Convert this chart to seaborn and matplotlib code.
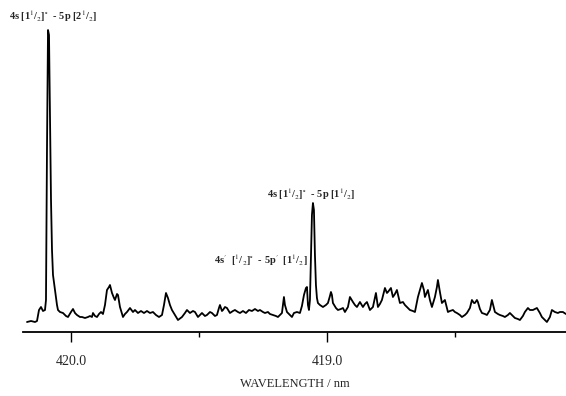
import numpy as np
import pandas as pd
import matplotlib
matplotlib.use("Agg")
import matplotlib.pyplot as plt
import seaborn as sns
from matplotlib.ticker import FixedLocator, FormatStrFormatter

sns.set_theme(style="white")
plt.rcParams['font.family'] = ['Liberation Serif', 'DejaVu Serif']
plt.rcParams['mathtext.fontset'] = 'stix'

wavelength_nm = [
    420.1719, 420.1562, 420.1406, 420.1328, 420.1250, 420.1172, 420.1094, 420.1016, 420.0977, 420.0938,
    420.0898, 420.0859, 420.0820, 420.0781, 420.0742, 420.0703, 420.0625, 420.0547, 420.0508, 420.0430,
    420.0312, 420.0195, 420.0117, 420.0000, 419.9922, 419.9844, 419.9766, 419.9648, 419.9570, 419.9453,
    419.9336, 419.9258, 419.9180, 419.9141, 419.9062, 419.8984, 419.8906, 419.8828, 419.8750, 419.8672,
    419.8594, 419.8516, 419.8477, 419.8398, 419.8320, 419.8281, 419.8203, 419.8164, 419.8086, 419.7969,
    419.7891, 419.7812, 419.7695, 419.7578, 419.7500, 419.7383, 419.7266, 419.7148, 419.7031, 419.6914,
    419.6797, 419.6680, 419.6562, 419.6445, 419.6367, 419.6289, 419.6211, 419.6133, 419.6055, 419.5938,
    419.5820, 419.5664, 419.5547, 419.5469, 419.5352, 419.5234, 419.5156, 419.5039, 419.4883, 419.4766,
    419.4688, 419.4570, 419.4492, 419.4375, 419.4297, 419.4219, 419.4180, 419.4102, 419.4062, 419.3984,
    419.3906, 419.3789, 419.3672, 419.3594, 419.3477, 419.3398, 419.3281, 419.3164, 419.3047, 419.2930,
    419.2812, 419.2695, 419.2617, 419.2500, 419.2422, 419.2305, 419.2227, 419.2109, 419.1992, 419.1914,
    419.1836, 419.1758, 419.1719, 419.1680, 419.1641, 419.1562, 419.1484, 419.1367, 419.1289, 419.1172,
    419.1055, 419.0977, 419.0898, 419.0820, 419.0781, 419.0742, 419.0703, 419.0664, 419.0625, 419.0586,
    419.0547, 419.0508, 419.0469, 419.0430, 419.0391, 419.0352, 419.0273, 419.0156, 419.0039, 418.9961,
    418.9883, 418.9844, 418.9805, 418.9766, 418.9648, 418.9570, 418.9453, 418.9375, 418.9297, 418.9180,
    418.9102, 418.8984, 418.8906, 418.8828, 418.8711, 418.8594, 418.8516, 418.8437, 418.8320, 418.8203,
    418.8086, 418.8008, 418.7930, 418.7852, 418.7734, 418.7656, 418.7617, 418.7500, 418.7422, 418.7344,
    418.7266, 418.7148, 418.7031, 418.6953, 418.6875, 418.6758, 418.6641, 418.6562, 418.6445, 418.6367,
    418.6289, 418.6211, 418.6172, 418.6055, 418.5977, 418.5898, 418.5781, 418.5703, 418.5664, 418.5586,
    418.5508, 418.5391, 418.5312, 418.5273, 418.5195, 418.5078, 418.5000, 418.4922, 418.4805, 418.4727,
    418.4609, 418.4531, 418.4414, 418.4336, 418.4258, 418.4219, 418.4141, 418.4102, 418.4023, 418.3945,
    418.3828, 418.3750, 418.3633, 418.3555, 418.3477, 418.3437, 418.3320, 418.3242, 418.3125, 418.3047,
    418.2930, 418.2852, 418.2734, 418.2656, 418.2539, 418.2461, 418.2344, 418.2266, 418.2148, 418.2070,
    418.1953, 418.1875, 418.1797, 418.1680, 418.1602, 418.1484, 418.1406, 418.1289, 418.1211, 418.1094,
    418.0977, 418.0898, 418.0781, 418.0664,
]

intensity = [
    10, 11, 10, 11, 22, 25, 21, 22, 32, 182,
    302, 297, 212, 132, 82, 57, 42, 27, 22, 20,
    19, 16, 15, 20, 23, 19, 17, 15, 15, 14,
    15, 16, 15, 19, 16, 15, 18, 20, 18, 27,
    42, 45, 47, 39, 34, 32, 38, 37, 25, 15,
    18, 20, 24, 20, 22, 19, 21, 19, 21, 19,
    20, 17, 15, 17, 27, 39, 34, 27, 22, 17,
    12, 15, 19, 22, 19, 21, 20, 15, 19, 16,
    17, 20, 19, 16, 17, 24, 27, 21, 22, 25,
    24, 19, 21, 22, 20, 19, 21, 19, 22, 21,
    23, 21, 22, 20, 19, 20, 18, 17, 16, 15,
    17, 19, 27, 35, 27, 20, 18, 15, 19, 20,
    19, 26, 37, 44, 45, 27, 22, 32, 72, 117,
    129, 122, 77, 47, 34, 29, 27, 25, 27, 29,
    36, 40, 37, 29, 24, 22, 23, 24, 20, 25,
    35, 30, 27, 25, 30, 25, 28, 30, 22, 25,
    39, 25, 28, 32, 44, 39, 40, 44, 35, 38,
    42, 29, 30, 27, 25, 22, 21, 20, 35, 42,
    49, 42, 35, 42, 32, 25, 35, 45, 52, 40,
    29, 32, 24, 20, 21, 22, 20, 19, 17, 15,
    17, 19, 24, 32, 29, 29, 32, 30, 23, 19,
    18, 17, 22, 32, 24, 20, 18, 17, 16, 15,
    17, 19, 16, 14, 13, 12, 16, 20, 24, 22,
    22, 23, 24, 19, 15, 12, 10, 15, 22, 20,
    19, 20, 20, 18,
]

major_ticks = [420.0, 419.0]
minor_ticks = [419.5, 418.5]
x_label = "WAVELENGTH / nm"
line_labels = [
    (420.07, 316, r"4s [1$^{1}$/$_{2}$]$^{\circ}$  - 5p [2$^{1}$/$_{2}$]"),
    (419.06, 138, r"4s [1$^{1}$/$_{2}$]$^{\circ}$  - 5p [1$^{1}$/$_{2}$]"),
    (419.26, 72, r"4s$'$  [$^{1}$/$_{2}$]$^{\circ}$  - 5p$'$  [1$^{1}$/$_{2}$]"),
]

df = pd.DataFrame({"wavelength": wavelength_nm, "intensity": intensity})

fig = plt.figure(figsize=(5.66, 3.96), dpi=100)
ax = fig.add_axes([23 / 566, 64 / 396, 1 - 23 / 566, 312 / 396])
sns.lineplot(data=df, x="wavelength", y="intensity", ax=ax, color="black",
             linewidth=1.3, estimator=None, sort=True)

ax.set_xlim(420.1875, 418.066)
ax.set_ylim(0, 312)
for s in ["top", "left", "right"]:
    ax.spines[s].set_visible(False)
ax.spines["bottom"].set_linewidth(1.3)
ax.spines["bottom"].set_color("black")
ax.set_yticks([])
ax.set_ylabel("")
ax.xaxis.set_major_locator(FixedLocator(major_ticks))
ax.xaxis.set_minor_locator(FixedLocator(minor_ticks))
ax.xaxis.set_major_formatter(FormatStrFormatter("%.1f"))
ax.tick_params(axis="x", which="major", direction="out", length=7.5, width=1.0,
               bottom=True, color="black", labelsize=10, pad=9)
ax.tick_params(axis="x", which="minor", direction="out", length=3.5, width=1.0,
               bottom=True, color="black")
ax.set_xlabel(x_label, fontsize=9, labelpad=7)

for xv, yv, txt in line_labels:
    ax.text(xv, yv, txt, ha="center", va="center", fontsize=7.5,
            fontweight="bold", clip_on=False)

fig.savefig("out.png", dpi=100)
